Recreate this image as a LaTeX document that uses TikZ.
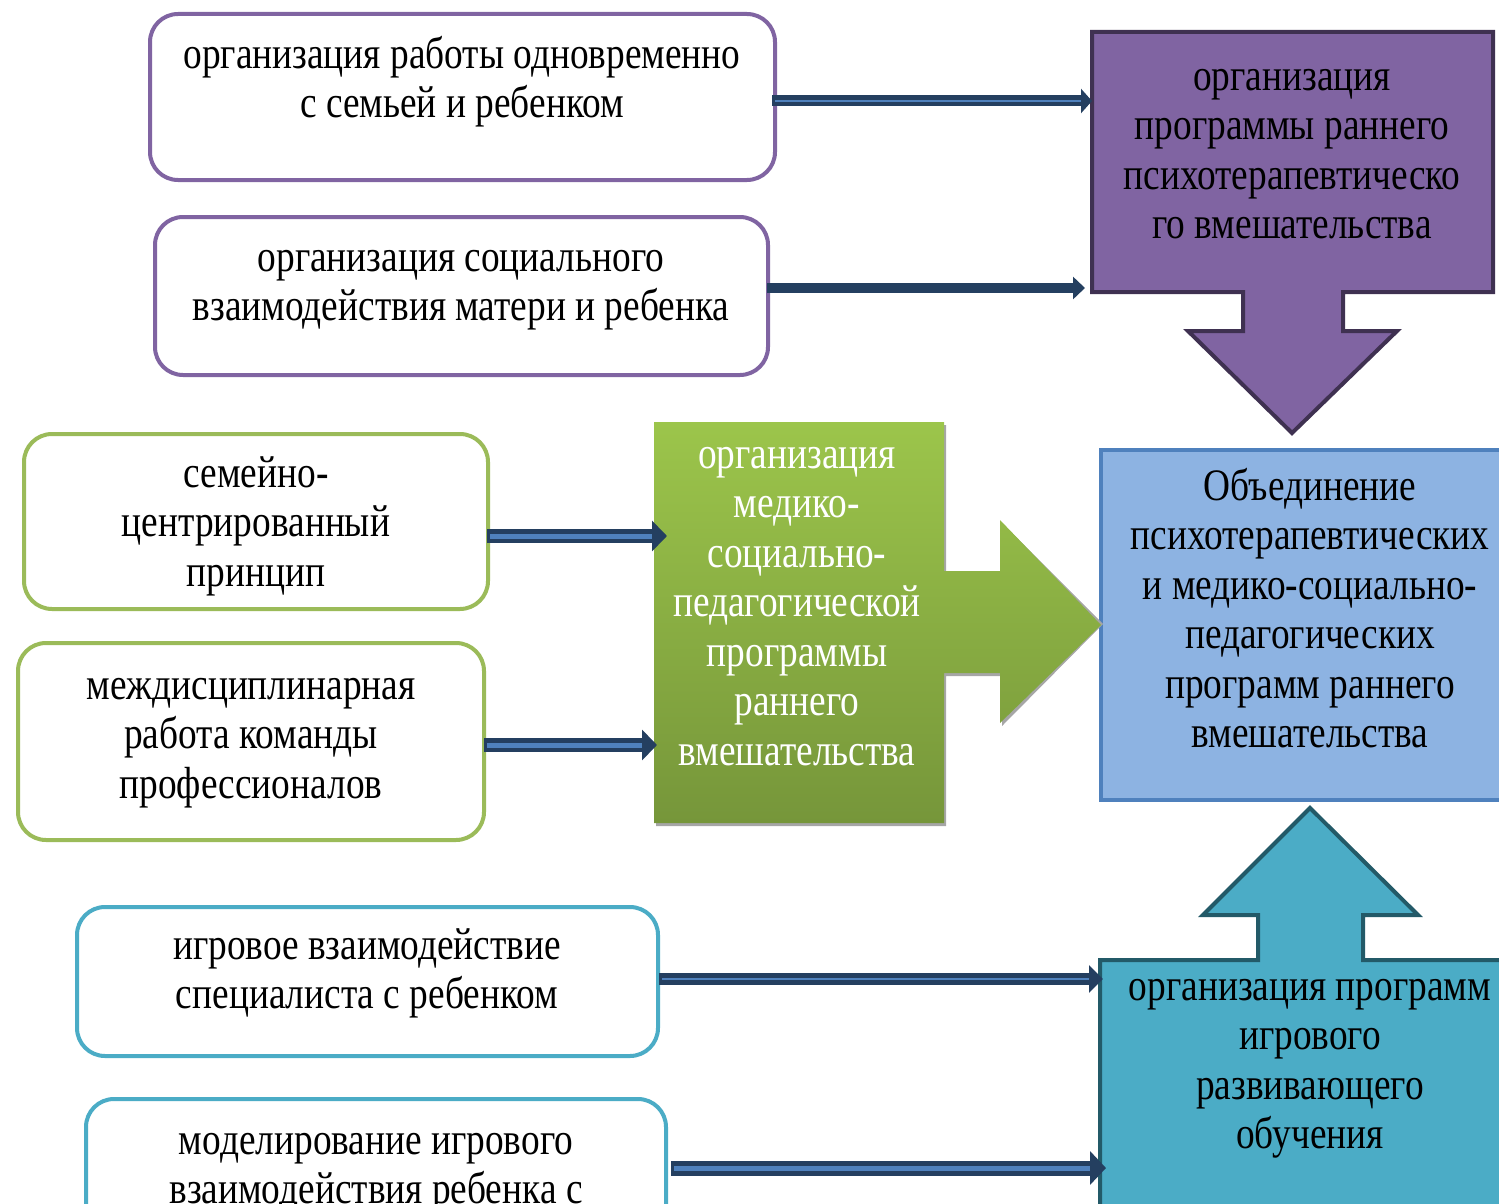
\documentclass[tikz,border=0pt]{standalone}
\usepackage{fontspec}
\setmainfont{Liberation Serif}[FakeStretch=0.83]
\usetikzlibrary{arrows.meta,calc}
\definecolor{purp}{HTML}{8064A2}
\definecolor{purpdk}{HTML}{3F3151}
\definecolor{bluef}{HTML}{8DB3E2}
\definecolor{blued}{HTML}{4F81BD}
\definecolor{grn}{HTML}{9BBB59}
\definecolor{grntop}{HTML}{9CC54B}
\definecolor{grnbot}{HTML}{76963A}
\definecolor{tealc}{HTML}{4BACC6}
\definecolor{tealdk}{HTML}{235A68}
\definecolor{arrdk}{HTML}{243F60}
\definecolor{arrlt}{HTML}{4F81BD}
\newcommand\myconn[6]{%
  \draw[arrdk, line width=#1, -{Triangle[length=#2 0, width=#3 0]}] (#5) -- (#6);
  \draw[arrlt, line width=#4, shorten >=#2, shorten <=3pt] (#5) -- (#6);}
\begin{document}
\begin{tikzpicture}[x=1pt,y=-1pt,
  rbox/.style={draw, line width=4pt, rounded corners=28pt, fill=white, inner sep=0pt, outer sep=0pt},
  area/.style={inner sep=0pt, outer sep=0pt},
  txt/.style={font=\fontsize{45}{49.5}\selectfont, align=center, anchor=base, inner sep=0pt}]
\useasboundingbox (0,0) rectangle (1499,1204);
\clip (0,0) rectangle (1499,1204);

% left rounded boxes
\node[rbox, draw=purp, minimum width=625pt, minimum height=166pt] (b1) at (462.5,97) {};
\node[rbox, draw=purp, minimum width=613pt, minimum height=158pt] (b2) at (461.5,296) {};
\node[rbox, draw=grn, minimum width=464pt, minimum height=175pt] (b3) at (256,521.5) {};
\node[rbox, draw=grn, minimum width=466pt, minimum height=197pt] (b4) at (251,741.5) {};
\node[rbox, draw=tealc, minimum width=581pt, minimum height=149pt] (b5) at (367.5,981.5) {};
\node[rbox, draw=tealc, minimum width=580pt, minimum height=199pt] (b6) at (376,1198.5) {};

% purple target with down arrow
\node[area, minimum width=401pt, minimum height=260pt] (t1) at (1292.5,162) {};
\draw[fill=purp, draw=purpdk, line width=4pt, line join=miter]
  (t1.north west) -- (t1.north east) -- (t1.south east) -- (1343,292) -- (1343,331) -- (1397,331)
  -- (1292,433) -- (1188,331) -- (1243,331) -- (1243,292) -- (t1.south west) -- cycle;

% blue result box
\node[area, draw=blued, fill=bluef, line width=4pt, minimum width=402pt, minimum height=350pt] (bl) at (1302,625) {};

% green program box with right arrow
\node[area, minimum width=290pt, minimum height=401pt] (g) at (799,622.5) {};
\fill[black!35, shift={(2,3)}]
  (654,422) -- (944,422) -- (944,571) -- (1000,571) -- (1000,520) -- (1101,621) -- (1000,723)
  -- (1000,673) -- (944,673) -- (944,823) -- (654,823) -- cycle;
\shade[top color=grntop, bottom color=grnbot]
  (g.north west) -- (g.north east) -- (944,571) -- (1000,571) -- (1000,520) -- (bl.west) -- (1000,723)
  -- (1000,673) -- (944,673) -- (g.south east) -- (g.south west) -- cycle;

% teal target with up arrow
\node[area, minimum width=404pt, minimum height=250pt] (t2) at (1302,1085) {};
\draw[fill=tealc, draw=tealdk, line width=4pt, line join=miter]
  (t2.north west) -- (1258,960) -- (1258,915) -- (1203,915) -- (1310,808) -- (1418,915)
  -- (1363,915) -- (1363,960) -- (t2.north east) -- (t2.south east) -- (t2.south west) -- cycle;

% texts (anchor base = baseline of the last line)
\node[txt] (x1) at (462,117.5) {организация работы одновременно\\с семьей и ребенком};
\node[txt] (x2) at (461,320.5) {организация социального\\взаимодействия матери и ребенка};
\node[txt] (x3) at (256,586) {семейно-\\центрированный\\принцип};
\node[txt] (x4) at (251,798) {междисциплинарная\\работа команды\\профессионалов};
\node[txt] (x5) at (367,1008.5) {игровое взаимодействие\\специалиста с ребенком};
\node[txt] (x6) at (376,1203.5) {моделирование игрового\\взаимодействия ребенка с};
\node[txt] (xp) at (1292,238.5) {организация\\программы раннего\\психотерапевтическо\\го вмешательства};
\node[txt] (xb) at (1310,747.5) {Объединение\\психотерапевтических\\и медико-социально-\\педагогических\\программ раннего\\вмешательства};
\node[txt, text=white] (xg) at (797,765) {организация\\медико-\\социально-\\педагогической\\программы\\раннего\\вмешательства};
\node[txt] (xt) at (1310,1148.5) {организация программ\\игрового\\развивающего\\обучения};

% connectors
\coordinate (a1s) at ($(b1.east)+(-3,4)$);
\coordinate (a1e) at (a1s -| t1.west);
\myconn{11pt}{11pt}{24pt}{1.5pt}{a1s}{a1e}
\coordinate (a2s) at ($(b2.east)+(-1,-8)$);
\coordinate (a2e) at ($(a2s -| t1.west)+(-7,0)$);
\draw[arrdk, line width=10pt, -{Triangle[length=12pt 0, width=22pt 0]}] (a2s) -- (a2e);
\coordinate (a3s) at ($(b3.east)+(-1,14.5)$);
\coordinate (a3e) at ($(a3s -| g.west)+(13,0)$);
\myconn{14pt}{15pt}{30pt}{5pt}{a3s}{a3e}
\coordinate (a4s) at ($(b4.east)+(0,3.5)$);
\coordinate (a4e) at ($(a4s -| g.west)+(3,0)$);
\myconn{14pt}{15pt}{30pt}{5pt}{a4s}{a4e}
\coordinate (a5s) at ($(b5.east)+(1,-2.5)$);
\coordinate (a5e) at ($(a5s -| t2.west)+(3,0)$);
\myconn{12pt}{14pt}{27pt}{2pt}{a5s}{a5e}
\coordinate (a6s) at ($(b6.east)+(5,-30.5)$);
\coordinate (a6e) at ($(a6s -| t2.west)+(6,0)$);
\myconn{15pt}{16pt}{33pt}{5pt}{a6s}{a6e}
\end{tikzpicture}
\end{document}
